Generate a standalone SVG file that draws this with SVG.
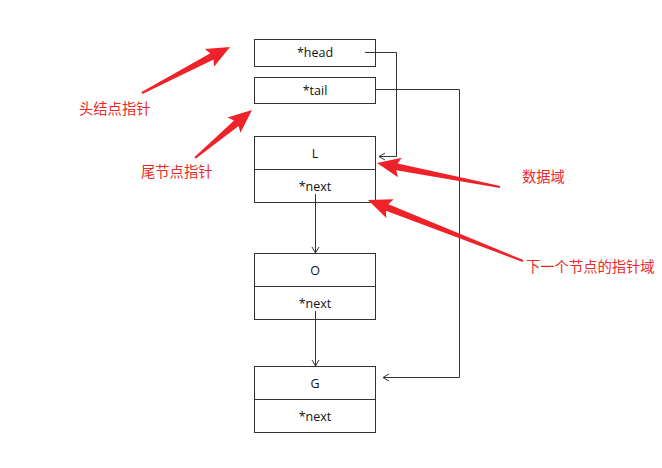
<svg xmlns="http://www.w3.org/2000/svg" width="662" height="468" viewBox="0 0 662 468">
<style>
.box{fill:#fff;stroke:#333;stroke-width:1}
.t{font-family:"Open Sans","Noto Sans",sans-serif;font-size:12.5px;fill:#111;text-anchor:middle;dominant-baseline:central}
.lbl{font-family:"Noto Sans CJK SC",sans-serif;font-size:14.3px;fill:#ee2828;dominant-baseline:central}
.c{fill:none;stroke:#333;stroke-width:1}
.ra{fill:#ee2228}
</style>
<defs>
<marker id="ah" markerWidth="10" markerHeight="10" refX="7" refY="4" orient="auto" markerUnits="userSpaceOnUse">
<path d="M1,0.5 L7,4 L1,7.5" fill="none" stroke="#333" stroke-width="1"/>
</marker>
</defs>
<rect width="662" height="468" fill="#fff"/>
<g id="head"><rect class="box" x="254.5" y="39.5" width="121" height="27"/><text class="t" x="315" y="52.5">*head</text></g>
<g id="tail"><rect class="box" x="254.5" y="77.5" width="121" height="26"/><text class="t" x="315" y="90">*tail</text></g>
<g id="nodeL"><rect class="box" x="254.5" y="136.5" width="121" height="66"/><line class="c" x1="254.5" y1="169.5" x2="375.5" y2="169.5"/><text class="t" x="315" y="153">L</text><text class="t" x="315" y="186">*next</text></g>
<g id="nodeO"><rect class="box" x="254.5" y="253.5" width="121" height="66"/><line class="c" x1="254.5" y1="286.5" x2="375.5" y2="286.5"/><text class="t" x="315" y="270">O</text><text class="t" x="315" y="303">*next</text></g>
<g id="nodeG"><rect class="box" x="254.5" y="366.5" width="121" height="66"/><line class="c" x1="254.5" y1="399.5" x2="375.5" y2="399.5"/><text class="t" x="315" y="383">G</text><text class="t" x="315" y="416">*next</text></g>
<g id="connectors">
<polyline class="c" points="365,52.5 396.5,52.5 396.5,156.5 379,156.5" marker-end="url(#ah)"/>
<polyline class="c" points="376,89.5 459.5,89.5 459.5,377.5 383,377.5" marker-end="url(#ah)"/>
<line class="c" x1="315.5" y1="194" x2="315.5" y2="253" marker-end="url(#ah)"/>
<line class="c" x1="315.5" y1="311" x2="315.5" y2="366" marker-end="url(#ah)"/>
</g>
<g id="annotations">
<polygon class="ra" transform="translate(142,93) rotate(-27.6)" points="0,-1 79,-3.5 76,-10 99.3,0 76,10 79,3.5 0,1"/>
<polygon class="ra" transform="translate(195,158) rotate(-40.1)" points="0,-1 54,-3.5 51,-10 74.5,0 51,10 54,3.5 0,1"/>
<polygon class="ra" transform="translate(500,187) rotate(-168.96)" points="0,-1 105,-3.5 102,-10 125.3,0 102,10 105,3.5 0,1"/>
<polygon class="ra" transform="translate(523,261) rotate(-158.5)" points="0,-1 146,-3.5 143,-10 166.6,0 143,10 146,3.5 0,1"/>
<text class="lbl" x="79" y="107">头结点指针</text>
<text class="lbl" x="141" y="170">尾节点指针</text>
<text class="lbl" x="522" y="175">数据域</text>
<text class="lbl" x="526" y="265">下一个节点的指针域</text>
</g>
</svg>
